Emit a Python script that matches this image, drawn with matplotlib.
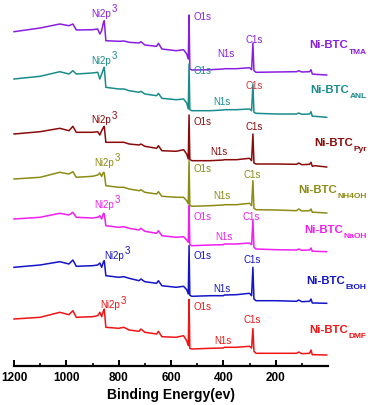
import matplotlib
matplotlib.use("Agg")
import matplotlib.pyplot as plt

plt.rcParams['font.family'] = ['Liberation Sans', 'DejaVu Sans']

# Binding energy grid (eV)
energy = [1200, 1100, 1025, 990, 975, 962, 900, 880, 872, 865, 858, 855, 849, 800, 780, 760,
          722, 715, 700, 655, 648, 635, 580, 552, 540, 534, 531, 528, 520, 450, 400, 396,
          350, 300, 292, 287, 283, 275, 200, 120, 112, 100, 70, 65, 60, 50, 5]

# Intensities (a.u., relative to the low-energy end of each spectrum)
tma = [43.3, 47, 51, 49.3, 51, 45, 45.3, 46, 41, 44.3, 52.7, 54.3, 34.3, 33.7, 34, 32.7,
       32, 33.3, 30, 28.7, 31.7, 26, 24.3, 25.3, 21, 16, 60, 6, 5, 5.3, 6, 6.3,
       6.3, 7.3, 5.3, 31.7, 4.3, 2.7, 3, 3.3, 4.3, 3, 3.3, 5.3, 1, 0.7, 0]
anl = [38.3, 41, 45.6, 43.3, 46.6, 43.3, 44.3, 45, 38.3, 43.3, 48.3, 50, 30, 28.3, 28.3, 26.6,
       25, 26, 23.3, 21.6, 24, 19, 17.6, 18.3, 14.3, 8.3, 53.3, 7.5, 6.6, 6.6, 7.3, 7.6,
       7.6, 8.3, 6.6, 33.3, 5, 4, 3.3, 3.3, 4.3, 3, 3.3, 5.6, 1, 1, 0]
pyr = [33, 35.3, 38.7, 36.3, 40.7, 34.7, 34.7, 35.3, 32, 36.3, 39.7, 40.7, 24.7, 24.7, 24.7, 23,
       22, 23, 20.7, 18.7, 21.3, 16.3, 15.7, 17.3, 13, 8, 52, 7.5, 6.3, 6.3, 7, 7.3,
       7.3, 8.7, 6.3, 33, 4, 3, 3, 2.7, 4, 2.3, 2.7, 4.7, 0.7, 1.3, 0]
nh4oh = [34, 35.7, 40.7, 39, 41.3, 35.7, 36.7, 38, 40, 36.7, 40.7, 40, 27.3, 25.7, 25.7, 24,
         22.3, 23.3, 20.7, 19, 21.3, 16.7, 15.7, 15.7, 12.3, 9, 52.3, 7.5, 6.7, 7.3, 8, 8.3,
         8.3, 9.7, 7.3, 32.3, 4.7, 3.3, 3, 2.3, 4, 2, 2.3, 4, 0.7, 0.7, 0]
naoh = [32.7, 34.4, 38.4, 36.7, 39.4, 34.4, 33.7, 34.4, 36, 32.7, 38.4, 37.7, 26, 24.4, 25, 23.4,
        21.7, 23.4, 20.4, 18.4, 21, 16, 14.4, 15, 11.7, 9.4, 46, 7, 6, 6.7, 7, 7.7,
        7.7, 8.7, 7, 31.7, 4.4, 2.7, 2, 1.7, 2.7, 1.4, 1.7, 3.7, 0.4, 0.4, 0]
etoh = [36, 38.3, 41.6, 39.3, 43.3, 37, 37.6, 38.3, 40.3, 36, 41.6, 42.6, 27.6, 26, 26.6, 25,
        22.6, 24.3, 21.6, 20, 22.6, 17.6, 16, 17, 13.6, 9.3, 57.6, 8, 7, 7.6, 7.6, 8.3,
        8.6, 10, 7.6, 36, 4.3, 2.6, 2.6, 2, 3.3, 1.6, 2, 4.3, 0.3, 0.3, 0]
dmf = [36, 37.7, 42.7, 40.3, 44.3, 37.7, 38.3, 39.3, 42.7, 38.3, 44.3, 46, 27.7, 26.7, 27.7, 25,
       23.7, 26, 22.7, 21, 23.7, 18.3, 17.7, 19.3, 14.3, 9.3, 55.5, 6.5, 6, 6.7, 7, 7.7,
       7.7, 8.7, 7, 26.5, 3.7, 1.7, 1.7, 1.7, 3, 1.3, 1.7, 5, 0.3, 0.3, 0]

series_names = ['TMA', 'ANL', 'Pyr', 'NH4OH', 'NaOH', 'EtOH', 'DMF']
series_data = [tma, anl, pyr, nh4oh, naoh, etoh, dmf]
x_ticks = [1200, 1000, 800, 600, 400, 200]

# styling / layout (pixel based)
colors = ['#8A1EE0', '#1A8C8C', '#8B0A0A', '#8C8C14', '#F01EF0', '#1414C8', '#F01414']
offsets = [330, 287.7, 238, 192, 153.3, 101.7, 50]
W, H = 371, 406

fig = plt.figure(figsize=(W / 100, H / 100), dpi=100)
ax_bottom_px = 366.7
ax = fig.add_axes([14 / W, (H - ax_bottom_px) / H, 314 / W, (ax_bottom_px - 2) / H])
ax.set_xlim(1200, 0)
ax.set_ylim(H - ax_bottom_px, H - 2)

for vals, col, off in zip(series_data, colors, offsets):
    ax.plot(energy, [off + v for v in vals], color=col, lw=1.1, clip_on=False)

for s in ['left', 'right', 'top']:
    ax.spines[s].set_visible(False)
ax.spines['bottom'].set_linewidth(1.6)
ax.set_yticks([])
ax.set_xticks(x_ticks)
ax.set_xticks(range(100, 1200, 100), minor=True)
ax.tick_params(axis='x', which='major', direction='in', length=4, width=1.4, pad=4,
               labelsize=8.5)
ax.tick_params(axis='x', which='minor', direction='in', length=2.5, width=1.2)
for lab in ax.get_xticklabels():
    lab.set_fontweight('bold')
ax.set_xlabel('Binding Energy(ev)', fontsize=10, fontweight='bold', labelpad=3)

renderer = fig.canvas.get_renderer()

def ftext(x, y, s, **kw):
    return fig.text(x / W, 1 - y / H, s, **kw)

def px_width(t):
    bb = t.get_window_extent(renderer=renderer)
    return bb.width

# peak labels: (Ni2p x,y), (O1s x,y), (N1s x,y), (C1s x,y) in pixels (center y)
peak_pos = {
    'TMA':   [(91, 14), (193, 17), (217, 54), (245, 40)],
    'ANL':   [(91, 61), (194, 71.7), (213, 102), (245, 86)],
    'Pyr':   [(91, 120.7), (194, 122.7), (210, 152.7), (245, 127.7)],
    'NH4OH': [(94, 163.3), (193, 169.3), (213, 196.7), (243, 175.7)],
    'NaOH':  [(94, 205), (193, 217.3), (215, 237.7), (242, 217.3)],
    'EtOH':  [(104, 256), (193, 256), (213, 289), (243, 260)],
    'DMF':   [(100, 305.7), (193, 307.7), (214, 341), (243, 320)],
}
c1s_colors = {'ANL': '#CC3A3A'}
texts = ['Ni2p', 'O1s', 'N1s', 'C1s']
pk_fs = 7
for name, col in zip(series_names, colors):
    for i, (t, (x, y)) in enumerate(zip(texts, peak_pos[name])):
        c = col
        if i == 3 and name in c1s_colors:
            c = c1s_colors[name]
        tt = ftext(x, y + 2.6, t, color=c, fontsize=pk_fs, ha='left', va='baseline')
        if i == 0:
            w = px_width(tt)
            ftext(x + w + 0.8, y - 2.0, '3', color=c, fontsize=pk_fs, ha='left',
                  va='baseline')

# sample labels (right aligned, with subscript)
name_y = [45, 90, 143, 190, 230, 280.7, 330]
for name, col, y in zip(series_names, colors, name_y):
    sub = ftext(366.5, y + 8.5, name, color=col, fontsize=6.0, fontweight='bold',
                ha='right', va='baseline')
    sw = px_width(sub)
    ftext(366.5 - sw - 0.3, y + 3.3, 'Ni-BTC', color=col, fontsize=8.2,
          fontweight='bold', ha='right', va='baseline')

fig.savefig('out.png', dpi=100)
